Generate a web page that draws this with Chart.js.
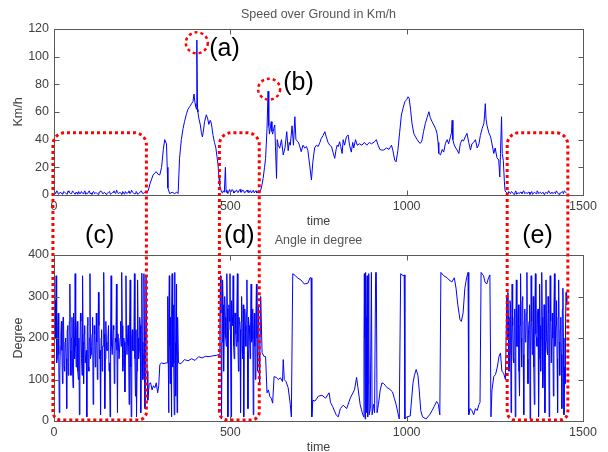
<!DOCTYPE html>
<html>
<head>
<meta charset="utf-8">
<script src="https://cdn.jsdelivr.net/npm/chart.js@4.4.1/dist/chart.umd.min.js"></script>
<style>
  html, body { margin: 0; padding: 0; background: #fff; }
  #wrap { position: relative; width: 608px; height: 452px; overflow: hidden; }
  canvas { position: absolute; left: 0; }
  #speedChart { top: 0; }
  #angleChart { top: 226px; }
  #marks { top: 0; pointer-events: none; }
</style>
</head>
<body>
<div id="wrap">
  <canvas id="speedChart" width="608" height="240"></canvas>
  <canvas id="angleChart" width="608" height="240"></canvas>
  <canvas id="marks" width="608" height="452"></canvas>
</div>
<script>
// speed over ground (km/h)
const speedIdle1 = [ // t = 0..260, every 5 s
  2, 1, 2.5, 1, 1.5, 0.5, 2, 1, 3, 1.5,
  1, 2, 0.5, 1.5, 2.5, 1, 1.5, 2, 0.5, 1,
  3, 1.5, 2, 1, 1.5, 0.5, 2, 2.5, 1, 1.5,
  1, 2, 0.5, 1.5, 3, 1, 2, 1.5, 1, 2.5,
  0.5, 1.5, 2, 1, 3.5, 1.5, 1, 2, 1, 2.5,
  1.5, 1, 2
];
const speedIdle1b = [ // t = 2.5..257.5, every 5 s
  1.5, 3, 0.5, 2, 1, 2.5, 1.5, 0.5, 2, 1,
  3, 1.5, 2, 0.5, 1, 2.5, 1, 3, 1.5, 2,
  1, 0.5, 2.5, 1.5, 1, 2, 3, 1, 2, 0.5,
  1.5, 2.5, 1, 2, 1.5, 3.5, 1, 2, 0.5, 1.5,
  2.5, 1, 3, 1.5, 2, 1, 2.5, 0.5, 1.5, 3,
  1, 2
];
const speedDrive1 = [
  [262, 2], [267, 3], [272, 8], [281, 14.5], [286, 16], [290, 16.8], [295, 15], [300, 14.5], [305, 20], [310, 33],
  [314, 40], [319, 37], [321, 20], [323, 5], [328, 1], [335, 2], [342, 1], [348, 2], [352, 1], [356, 26.5],
  [361, 40], [366, 48], [370, 53], [375, 58], [380, 62], [385, 64], [390, 66], [394, 67.5], [397, 73], [400, 66],
  [402, 64], [404, 62], [405, 112], [407, 62], [408, 60], [411, 55], [415, 50.6], [418, 45], [421, 42], [424, 47],
  [427, 53], [432, 58], [436, 55], [439, 51], [443, 54], [446, 52], [451, 43], [455, 38], [459, 34], [462, 28],
  [465, 22], [468, 12], [470, 7], [475, 2]
];
const speedIdle2 = [
  [478, 1.5], [480, 3], [483, 2], [486, 20], [488, 2], [490, 3.5], [493, 1], [495, 2.5], [498, 4], [500, 2],
  [503, 2.5], [505, 4], [508, 3], [510, 1.5], [513, 2], [515, 3], [518, 3.5], [520, 2], [523, 2], [525, 3.5],
  [528, 4], [530, 2], [533, 2.5], [535, 3.5], [538, 3], [540, 1.5], [543, 2], [545, 3], [548, 3.5], [550, 2],
  [553, 2], [555, 3], [558, 3], [560, 1.5], [563, 2.5], [565, 3.5], [568, 1.5], [570, 2.5], [573, 3], [575, 1.5],
  [578, 2], [580, 3], [583, 2]
];
const speedDrive2 = [
  [588, 5], [593, 12], [597, 20], [600, 26.5], [604, 48], [607, 75], [609, 50], [611, 44], [614, 50], [616, 53],
  [618, 46], [620, 44], [623, 48], [626, 50.6], [628, 35], [631, 12], [633, 40], [636, 36], [640, 33.8], [645, 40],
  [650, 29], [655, 34], [660, 45.8], [664, 32], [667, 38], [670, 36], [675, 50], [679, 36], [683, 56.6], [686, 40],
  [692, 38.5], [696, 36], [701, 31.3], [706, 36], [711, 34], [716, 35], [720, 32], [725, 21.7], [730, 10.8], [734, 24],
  [739, 34], [744, 36], [749, 35], [754, 38], [758, 41], [763, 43], [768, 45.8], [772, 42], [777, 38], [782, 36],
  [787, 35], [791, 31], [796, 26.5], [800, 33], [803, 36], [806, 35], [810, 38.5], [813, 35], [817, 30], [820, 40],
  [824, 36], [829, 42], [834, 43.4], [838, 36], [843, 31], [847, 38], [850, 34], [855, 40], [860, 36], [866, 37],
  [873, 36], [880, 38], [887, 36], [894, 38], [900, 37], [909, 38.5], [914, 40], [919, 36], [924, 33], [928, 32.5],
  [935, 32.5], [943, 34], [950, 33], [957, 36], [961, 32], [966, 25.3], [970, 24], [975, 32], [980, 45], [985, 57.8],
  [990, 63], [995, 67.5], [1000, 69], [1004, 71], [1007, 70], [1011, 62], [1015, 52], [1020, 44.6], [1025, 42], [1030, 40],
  [1035, 38], [1039, 37.4], [1043, 39], [1048, 46], [1053, 51.8], [1058, 56], [1063, 60.2], [1067, 56], [1072, 53], [1077, 50.6],
  [1082, 48], [1086, 44.6], [1089, 38], [1091, 30.1], [1096, 29], [1101, 33], [1105, 31], [1110, 37.4], [1115, 40], [1119, 37],
  [1124, 42], [1127, 45], [1129, 54], [1131, 40], [1135, 36], [1139, 34], [1143, 32.5], [1148, 30], [1152, 37], [1157, 40],
  [1161, 39], [1166, 42], [1171, 44.6], [1176, 38], [1181, 32.5], [1185, 37], [1190, 38], [1195, 40], [1200, 34], [1205, 37],
  [1209, 43], [1214, 48], [1219, 51.8], [1221, 58], [1223, 66], [1225, 55], [1228, 50], [1233, 45], [1238, 42], [1242, 37],
  [1247, 30], [1251, 34], [1256, 27], [1261, 25.3], [1264, 13], [1266, 30], [1269, 56.6], [1271, 30], [1274, 25], [1277, 10],
  [1279, 3]
];
const speedIdle3 = [ // t = 1282..1452, every 5 s
  2, 1, 1.5, 2.5, 1, 2, 0.5, 1.5, 2, 1,
  3, 1.5, 1, 2, 1.5, 0.5, 2, 1, 2.5, 1.5,
  1, 2, 1, 1.5, 3, 1, 2, 1.5, 1, 2,
  0.5, 1.5, 2.5, 3, 1.5
];
const speedIdle3b = [ // t = 1284.5..1449.5, every 5 s
  1.5, 2.5, 1, 2, 0.5, 3, 1.5, 1, 2, 2.5,
  1, 1.5, 2, 0.5, 2.5, 1, 1.5, 3, 1, 2,
  1.5, 0.5, 2, 1, 2.5, 1.5, 1, 2, 3, 1,
  1.5, 2, 1, 2.5
];

// heading angle (degree)
const angleIdle1 = [ // t = 0..261, every 3 s
  300, 290, 350, 150, 260, 20, 180, 240, 90, 250,
  120, 200, 30, 230, 140, 330, 110, 250, 80, 200,
  355, 130, 240, 100, 15, 260, 150, 350, 90, 230,
  140, 10, 250, 120, 355, 160, 210, 40, 230, 130,
  260, 100, 310, 150, 15, 220, 180, 358, 30, 240,
  170, 200, 120, 10, 350, 160, 230, 90, 200, 330,
  20, 210, 150, 240, 358, 120, 200, 70, 350, 160,
  230, 40, 340, 10, 220, 170, 355, 60, 10, 340,
  150, 250, 20, 356, 100, 355, 30, 350
];
const angleIdle1Core = [ // t = 1.5..259.5, every 3 s
  180, 200, 140, 230, 160, 120, 210, 170, 250, 130,
  190, 150, 220, 110, 240, 170, 200, 130, 260, 150,
  180, 220, 120, 200, 160, 240, 110, 190, 210, 140,
  170, 230, 130, 200, 150, 180, 250, 120, 210, 160,
  190, 140, 230, 170, 200, 120, 180, 210, 150, 190,
  170, 230, 140, 200, 180, 160, 220, 130, 190, 170,
  210, 150, 200, 180, 230, 140, 190, 170, 210, 160,
  180, 240, 130, 200, 170, 190, 150, 220, 120, 200,
  170, 230, 140, 190, 160, 210, 180
];
const angleMove1 = [
  [264, 120], [266, 50], [270, 90], [274, 92], [278, 75], [282, 85], [286, 80], [290, 92], [294, 68], [297, 85],
  [300, 136], [305, 140], [312, 138], [318, 140]
];
const angleBurst1 = [ // t = 321..351, every 2 s
  140, 300, 20, 350, 90, 250, 10, 355, 130, 280, 15, 358, 60, 330, 20, 250
];
const angleBurst1Core = [ // t = 322..350, every 2 s
  200, 150, 250, 180, 220, 120, 260, 170, 210, 140, 230, 190, 160, 240, 180
];
const angleMove2 = [
  [353, 140], [360, 138], [370, 148], [380, 145], [390, 150], [400, 146], [410, 155], [420, 152], [430, 156], [440, 155],
  [450, 157], [460, 158], [466, 160]
];
const angleIdle2 = [ // t = 469..586, every 3 s
  160, 350, 5, 340, 120, 300, 200, 355, 10, 280,
  355, 10, 250, 350, 150, 260, 180, 355, 120, 240,
  20, 300, 150, 10, 270, 180, 340, 30, 230, 150,
  330, 200, 15, 260, 100, 330, 120, 280, 90, 300
];
const angleIdle2Core = [ // t = 470.5..584.5, every 3 s
  230, 260, 190, 280, 210, 250, 180, 270, 220, 240,
  200, 290, 230, 180, 260, 210, 270, 190, 250, 220,
  240, 180, 280, 200, 230, 260, 170, 250, 210, 240,
  190, 270, 220, 180, 250, 200, 230, 160, 210
];
const angleMove3 = [
  [590, 165], [595, 156], [600, 155], [604, 68], [608, 75], [612, 59], [616, 55], [620, 43], [624, 107], [630, 105],
  [636, 100], [642, 104], [648, 95], [650, 148], [653, 100], [658, 95], [664, 80], [670, 40], [673, 10], [677, 355],
  [685, 350], [690, 345], [700, 340], [710, 330], [720, 332], [726, 345], [729, 345], [731, 10], [734, 50], [740, 48],
  [750, 60], [760, 62], [770, 55], [780, 68], [784, 45], [790, 35], [800, 15], [806, 10], [812, 30], [820, 38],
  [830, 30], [840, 55], [846, 65], [852, 75], [858, 105], [862, 80], [868, 40], [874, 20]
];
const angleBurst2 = [ // t = 878..894, every 2 s
  10, 355, 5, 358, 20, 350, 10, 355, 15
];
const angleBurst2Core = [ // t = 879..893, every 2 s
  180, 200, 150, 250, 120, 300, 90, 200
];
const angleMove4 = [
  [897, 30], [900, 358], [902, 15], [906, 40], [909, 20], [912, 358], [914, 358], [916, 20], [920, 40], [925, 75],
  [930, 92], [935, 90], [940, 85], [945, 80], [950, 78], [960, 70], [965, 55], [970, 40], [975, 20], [979, 5],
  [983, 355], [990, 350], [993, 352], [995, 5], [1000, 10], [1010, 12], [1018, 92], [1022, 110], [1027, 124], [1032, 110],
  [1036, 70], [1040, 25], [1045, 10], [1055, 5], [1065, 15], [1072, 25], [1078, 35], [1085, 47], [1090, 40], [1094, 15],
  [1097, 358], [1105, 350], [1115, 345], [1120, 340], [1128, 335], [1135, 345], [1140, 320], [1145, 280], [1151, 245], [1155, 240],
  [1160, 260], [1165, 320], [1170, 345], [1174, 358], [1176, 15], [1180, 30], [1185, 25], [1190, 15], [1195, 30], [1200, 25],
  [1205, 40], [1208, 45], [1211, 358], [1218, 350], [1222, 335], [1227, 330], [1232, 345], [1236, 352], [1239, 10], [1242, 75],
  [1247, 107], [1252, 112], [1257, 130], [1262, 156], [1266, 164], [1270, 120], [1275, 115], [1280, 100]
];
const angleIdle3 = [ // t = 1284..1455, every 3 s
  300, 310, 120, 290, 20, 330, 150, 250, 10, 340,
  180, 280, 60, 355, 130, 300, 15, 270, 200, 358,
  90, 240, 5, 350, 160, 300, 40, 355, 200, 260,
  10, 330, 120, 358, 80, 280, 20, 340, 170, 300,
  10, 350, 140, 260, 60, 355, 200, 290, 20, 340,
  110, 250, 30, 320, 15, 90, 310, 300
];
const angleIdle3Core = [ // t = 1285.5..1453.5, every 3 s
  200, 250, 160, 280, 190, 230, 140, 270, 210, 180,
  250, 120, 230, 200, 290, 160, 240, 190, 260, 150,
  220, 280, 170, 240, 200, 130, 260, 210, 180, 270,
  150, 230, 200, 250, 120, 280, 190, 220, 160, 260,
  210, 240, 140, 200, 270, 180, 230, 150, 250, 190,
  220, 160, 270, 200, 130, 240, 280
];

// annotations: idle windows (c)-(e) and speed spikes (a)-(b)
const idleWindows = [[-3, 262, '(c)'], [469, 582, '(d)'], [1285, 1457, '(e)']];
const windowTopSpeed = 45;
const spikes = [[405, 110, '(a)', 440, 105.5], [610, 76.5, '(b)', 650, 80.7]];

const FONT = "'Liberation Sans', Arial, sans-serif";

function stepSeries(t0, dt, values) {
  return values.map((v, i) => ({ x: t0 + i * dt, y: v }));
}
function pairSeries(pairs) {
  return pairs.map(([t, v]) => ({ x: t, y: v }));
}
const byTime = (p, q) => p.x - q.x;

const speedPoints = [
  ...stepSeries(0, 5, speedIdle1),
  ...stepSeries(2.5, 5, speedIdle1b),
  ...pairSeries(speedDrive1),
  ...pairSeries(speedIdle2),
  ...pairSeries(speedDrive2),
  ...stepSeries(1282, 5, speedIdle3),
  ...stepSeries(1284.5, 5, speedIdle3b)
].sort(byTime);

const anglePoints = [
  ...stepSeries(0, 3, angleIdle1),
  ...stepSeries(1.5, 3, angleIdle1Core),
  ...pairSeries(angleMove1),
  ...stepSeries(321, 2, angleBurst1),
  ...stepSeries(322, 2, angleBurst1Core),
  ...pairSeries(angleMove2),
  ...stepSeries(469, 3, angleIdle2),
  ...stepSeries(470.5, 3, angleIdle2Core),
  ...pairSeries(angleMove3),
  ...stepSeries(878, 2, angleBurst2),
  ...stepSeries(879, 2, angleBurst2Core),
  ...pairSeries(angleMove4),
  ...stepSeries(1284, 3, angleIdle3),
  ...stepSeries(1285.5, 3, angleIdle3Core)
].sort(byTime);

// matlab style box with inward ticks on all four sides
const matlabBox = {
  id: 'matlabBox',
  afterDatasetsDraw(chart) {
    const { ctx, chartArea: a, scales } = chart;
    const L = Math.round(a.left) + 0.5, R = Math.round(a.right) + 0.5;
    const T = Math.round(a.top) + 0.5, B = Math.round(a.bottom) + 0.5;
    ctx.save();
    ctx.strokeStyle = '#5a5a5a';
    ctx.lineWidth = 1;
    ctx.strokeRect(L, T, R - L, B - T);
    ctx.beginPath();
    scales.x.ticks.forEach(t => {
      const px = Math.round(scales.x.getPixelForValue(t.value)) + 0.5;
      if (px <= L + 1 || px >= R - 1) return;
      ctx.moveTo(px, B); ctx.lineTo(px, B - 5);
      ctx.moveTo(px, T); ctx.lineTo(px, T + 5);
    });
    scales.y.ticks.forEach(t => {
      const py = Math.round(scales.y.getPixelForValue(t.value)) + 0.5;
      if (py <= T + 1 || py >= B - 1) return;
      ctx.moveTo(L, py); ctx.lineTo(L + 5, py);
      ctx.moveTo(R, py); ctx.lineTo(R - 5, py);
    });
    ctx.stroke();
    ctx.restore();
  }
};

function makeChart(id, title, yTitle, yMax, yStep, points) {
  return new Chart(document.getElementById(id), {
    type: 'line',
    data: {
      datasets: [{
        data: points,
        borderColor: '#0000ff',
        borderWidth: 1,
        pointRadius: 0,
        tension: 0,
        fill: false
      }]
    },
    options: {
      responsive: false,
      animation: false,
      events: [],
      layout: { padding: { top: 3, right: 25, bottom: 0, left: 0 } },
      plugins: {
        legend: { display: false },
        tooltip: { enabled: false },
        title: {
          display: true,
          fullSize: false,
          text: title,
          color: '#555',
          font: { family: FONT, size: 12.5, weight: 'normal' },
          padding: { top: 4, bottom: 7 }
        }
      },
      scales: {
        x: {
          type: 'linear',
          min: 0,
          max: 1500,
          grid: { display: false, drawTicks: false },
          border: { display: false },
          ticks: {
            stepSize: 500,
            color: '#404040',
            font: { family: FONT, size: 12.5 },
            padding: 4,
            maxRotation: 0,
            callback: v => String(v)
          },
          title: { display: true, text: 'time', color: '#404040', font: { family: FONT, size: 12.5 }, padding: { top: 0, bottom: 11 } },
          afterFit(s) { s.height = 45; }
        },
        y: {
          min: 0,
          max: yMax,
          grid: { display: false, drawTicks: false },
          border: { display: false },
          ticks: { stepSize: yStep, color: '#404040', font: { family: FONT, size: 12.5 }, padding: 5 },
          title: { display: true, text: yTitle, color: '#404040', font: { family: FONT, size: 12.5 }, padding: { top: 11, bottom: 0 } },
          afterFit(s) { s.width = 54; }
        }
      }
    },
    plugins: [matlabBox]
  });
}

const speedChart = makeChart('speedChart', 'Speed over Ground in Km/h', 'Km/h', 120, 20, speedPoints);
const angleChart = makeChart('angleChart', 'Angle in degree', 'Degree', 400, 100, anglePoints);

// red dotted marks drawn over both plots
function drawMarks() {
  const ctx = document.getElementById('marks').getContext('2d');
  const off = document.getElementById('angleChart').offsetTop;
  const sx = speedChart.scales.x, sy = speedChart.scales.y;
  const ay = angleChart.scales.y;

  ctx.strokeStyle = '#ff0000';
  ctx.setLineDash([3, 3]);
  ctx.lineWidth = 3;

  const top = sy.getPixelForValue(windowTopSpeed);
  const bottom = ay.getPixelForValue(0) + off - 1;
  const labelY = angleChart.chartArea.top + off - 19;

  idleWindows.forEach(([t0, t1, label]) => {
    const x0 = sx.getPixelForValue(t0), x1 = sx.getPixelForValue(t1);
    const rt = 12, rb = 8;
    ctx.beginPath();
    ctx.moveTo(x0, bottom - rb);
    ctx.lineTo(x0, top + rt);
    ctx.arcTo(x0, top, x0 + rt, top, rt);
    ctx.lineTo(x1 - rt, top);
    ctx.arcTo(x1, top, x1, top + rt, rt);
    ctx.lineTo(x1, bottom - rb);
    ctx.arcTo(x1, bottom, x1 - rb, bottom, rb);
    ctx.lineTo(x0 + rb, bottom);
    ctx.arcTo(x0, bottom, x0, bottom - rb, rb);
    ctx.closePath();
    ctx.stroke();

    ctx.save();
    ctx.fillStyle = '#000';
    ctx.font = '25px ' + FONT;
    ctx.textAlign = 'center';
    ctx.textBaseline = 'middle';
    ctx.fillText(label, (x0 + x1) / 2, labelY);
    ctx.restore();
  });

  ctx.lineWidth = 2.5;
  spikes.forEach(([t, v, label, lt, lv]) => {
    ctx.beginPath();
    ctx.ellipse(sx.getPixelForValue(t), sy.getPixelForValue(v), 11, 10.5, 0, 0, Math.PI * 2);
    ctx.stroke();

    ctx.save();
    ctx.fillStyle = '#000';
    ctx.font = '25px ' + FONT;
    ctx.textAlign = 'left';
    ctx.textBaseline = 'middle';
    ctx.fillText(label, sx.getPixelForValue(lt), sy.getPixelForValue(lv));
    ctx.restore();
  });
}

drawMarks();
</script>
</body>
</html>
